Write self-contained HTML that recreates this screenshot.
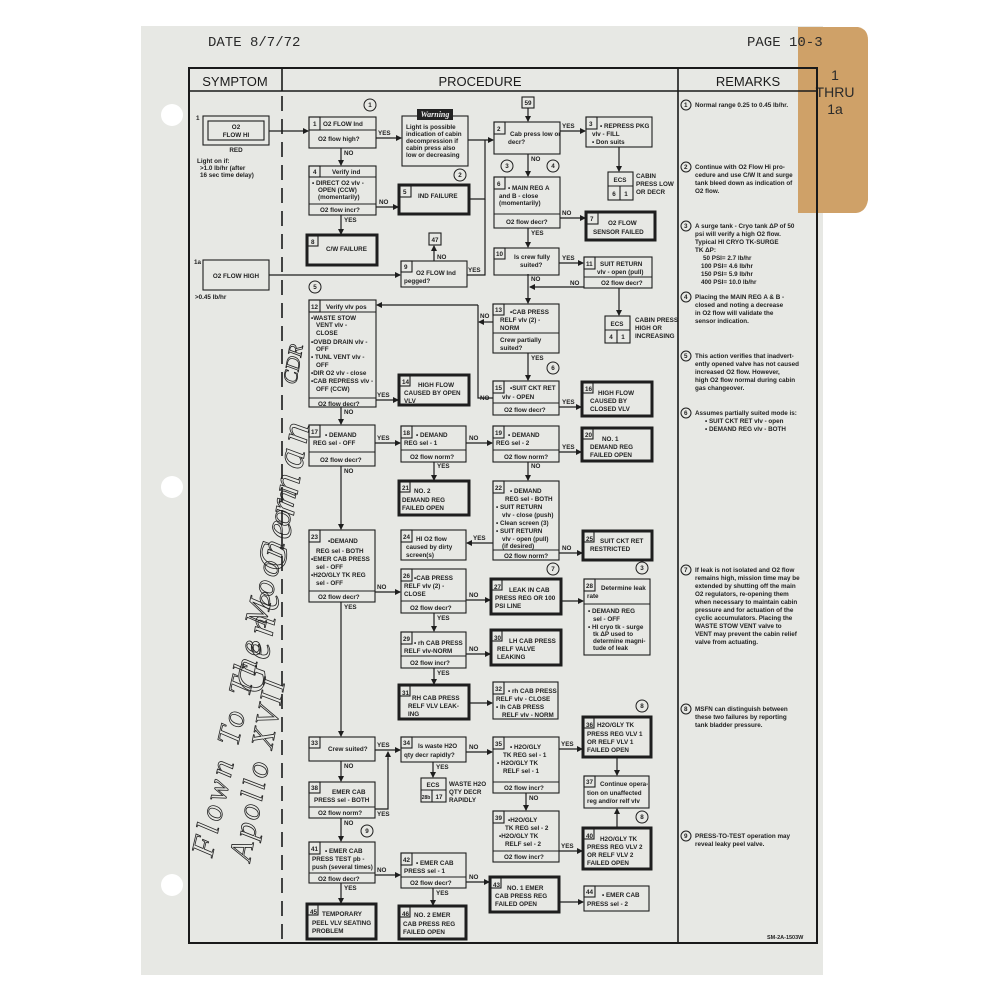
<!DOCTYPE html>
<html><head><meta charset="utf-8"><style>
html,body{margin:0;padding:0;background:#fff;}
svg{display:block}
.b{fill:none;stroke:#1e1e1e;stroke-width:1.1}
.k{fill:none;stroke:#1e1e1e;stroke-width:3}
.l{fill:none;stroke:#1e1e1e;stroke-width:1.2}
text{font-family:"Liberation Sans",sans-serif;font-size:6.3px;font-weight:bold;fill:#222}
.h{font-size:13px;font-weight:normal;fill:#1a1a1a}
.m{font-family:"Liberation Mono",monospace;font-size:14px;font-weight:normal;fill:#2a2a2a}
.r{font-size:6px}
.hw{font-family:"Liberation Serif",serif;font-style:italic;font-weight:normal;font-size:32px;fill:none;stroke:#222;stroke-width:0.8}
</style></head><body>
<svg width="1000" height="1000" viewBox="0 0 1000 1000" xmlns="http://www.w3.org/2000/svg">
<defs><marker id="a" markerWidth="6" markerHeight="6" refX="5" refY="3" orient="auto" markerUnits="userSpaceOnUse"><path d="M0,0 L6,3 L0,6 z" fill="#1e1e1e"/></marker></defs>
<!-- paper -->
<rect x="141" y="26" width="682" height="949" fill="#e7e8e4"/>
<!-- tab -->
<path d="M798,27 L858,27 Q868,29 868,40 L868,200 Q866,212 856,213 L798,213 Z" fill="#cfa168"/>
<text x="835" y="80" class="h" text-anchor="middle" style="fill:#2a2a2a;font-size:14px">1</text>
<text x="835" y="97" class="h" text-anchor="middle" style="fill:#2a2a2a;font-size:14px">THRU</text>
<text x="835" y="114" class="h" text-anchor="middle" style="fill:#2a2a2a;font-size:14px">1a</text>
<!-- holes -->
<circle cx="172" cy="115" r="11" fill="#fff"/>
<circle cx="172" cy="487" r="11" fill="#fff"/>
<circle cx="172" cy="885" r="11" fill="#fff"/>
<text x="208" y="46" class="m">DATE 8/7/72</text>
<text x="747" y="46" class="m">PAGE 10-3</text>
<!-- table -->
<rect x="189" y="68" width="628" height="875" fill="none" stroke="#1a1a1a" stroke-width="2"/>
<line x1="189" y1="91" x2="817" y2="91" stroke="#1a1a1a" stroke-width="1.6"/>
<line x1="282" y1="68" x2="282" y2="91" stroke="#1a1a1a" stroke-width="1.6"/>
<line x1="282" y1="96" x2="282" y2="943" stroke="#1a1a1a" stroke-width="1.6" stroke-dasharray="15,8"/>
<line x1="678" y1="68" x2="678" y2="943" stroke="#1a1a1a" stroke-width="1.6"/>
<text x="235" y="86" class="h" text-anchor="middle">SYMPTOM</text>
<text x="480" y="86" class="h" text-anchor="middle">PROCEDURE</text>
<text x="748" y="86" class="h" text-anchor="middle">REMARKS</text>

<!-- symptoms -->
<text x="196" y="120">1</text>
<rect x="203" y="116" width="66" height="29" class="b"/><rect x="208" y="121" width="56" height="19" class="b" stroke-width="1.6"/>
<text x="236" y="129" text-anchor="middle">O2</text><text x="236" y="137" text-anchor="middle">FLOW HI</text>
<text x="236" y="152" text-anchor="middle">RED</text>
<text x="197" y="163">Light on if:</text><text x="200" y="170">&gt;1.0 lb/hr (after</text><text x="200" y="177">16 sec time delay)</text>
<text x="194" y="264">1a</text>
<rect x="203" y="260" width="66" height="30" class="b" stroke-width="1.4"/>
<text x="236" y="278" text-anchor="middle">O2 FLOW HIGH</text>
<text x="195" y="299">&gt;0.45 lb/hr</text>

<!-- handwriting -->
<g transform="translate(212,858) rotate(-77)"><text class="hw" x="0" y="0" style="letter-spacing:4px">Flown To The Moon on</text></g>
<g transform="translate(250,862) rotate(-79)"><text class="hw" x="0" y="0" style="letter-spacing:3px">Apollo XVII</text></g>
<g transform="translate(262,695) rotate(-80)"><text class="hw" x="0" y="0" style="font-size:40px;letter-spacing:6px">Gene Cernan</text></g>
<g transform="translate(296,385) rotate(-80)"><text class="hw" x="0" y="0" style="font-size:20px">CDR</text></g>

<!-- circles -->
<g fill="none" stroke="#1e1e1e" stroke-width="1">
<circle cx="370" cy="105" r="6"/><circle cx="460" cy="175" r="6"/><circle cx="507" cy="166" r="6"/><circle cx="553" cy="166" r="6"/>
<circle cx="315" cy="287" r="6"/><circle cx="553" cy="368" r="6"/><circle cx="553" cy="569" r="6"/><circle cx="642" cy="568" r="6"/>
<circle cx="642" cy="706" r="6"/><circle cx="642" cy="817" r="6"/><circle cx="367" cy="831" r="6"/>
</g>
<g text-anchor="middle" style="font-size:6px">
<text x="370" y="107">1</text><text x="460" y="177">2</text><text x="507" y="168">3</text><text x="553" y="168">4</text>
<text x="315" y="289">5</text><text x="553" y="370">6</text><text x="553" y="571">7</text><text x="642" y="570">3</text>
<text x="642" y="708">8</text><text x="642" y="819">8</text><text x="367" y="833">9</text>
</g>

<!-- boxes -->
<g>
<rect x="309" y="117" width="67" height="31" class="b"/><rect x="309" y="117" width="11" height="13" class="b"/><line x1="309" y1="130" x2="376" y2="130" class="b"/>
<text x="313" y="126">1</text><text x="323" y="126">O2 FLOW Ind</text><text x="318" y="141">O2 flow high?</text>
<rect x="402" y="116" width="66" height="50" class="b"/><rect x="417" y="109" width="36" height="11" fill="#222"/>
<text x="435" y="117" text-anchor="middle" style="fill:#eee;font-style:italic;font-family:'Liberation Serif',serif;font-size:8px">Warning</text>
<text x="406" y="129">Light is possible</text><text x="406" y="136">indication of cabin</text><text x="406" y="143">decompression if</text><text x="406" y="150">cabin press also</text><text x="406" y="157">low or decreasing</text>
<rect x="522" y="97" width="12" height="11" class="b"/><text x="528" y="105" text-anchor="middle">59</text>
<rect x="494" y="122" width="66" height="32" class="b"/><rect x="494" y="122" width="11" height="12" class="b"/>
<text x="497" y="131">2</text><text x="510" y="136">Cab press low or</text><text x="508" y="144">decr?</text>
<rect x="586" y="117" width="66" height="30" class="b"/><rect x="586" y="117" width="11" height="12" class="b"/>
<text x="589" y="126">3</text><text x="600" y="128">• REPRESS PKG</text><text x="592" y="136">vlv - FILL</text><text x="592" y="144">• Don suits</text>
<rect x="608" y="172" width="25" height="28" class="b"/><line x1="608" y1="186" x2="633" y2="186" class="b"/><line x1="620" y1="186" x2="620" y2="200" class="b"/>
<text x="620" y="182" text-anchor="middle">ECS</text><text x="614" y="196" text-anchor="middle">6</text><text x="626" y="196" text-anchor="middle">1</text>
<text x="636" y="178">CABIN</text><text x="636" y="186">PRESS LOW</text><text x="636" y="194">OR DECR</text>
<rect x="309" y="166" width="67" height="49" class="b"/><rect x="309" y="166" width="11" height="11" class="b"/><line x1="309" y1="177" x2="376" y2="177" class="b"/><line x1="309" y1="204" x2="376" y2="204" class="b"/>
<text x="313" y="174">4</text><text x="332" y="174">Verify ind</text>
<text x="312" y="185">• DIRECT O2 vlv -</text><text x="318" y="192">OPEN (CCW)</text><text x="318" y="199">(momentarily)</text><text x="320" y="212">O2 flow incr?</text>
<rect x="399" y="185" width="70" height="29" class="k"/><rect x="400" y="186" width="11" height="11" class="b"/>
<text x="403" y="194">5</text><text x="418" y="198">IND FAILURE</text>
<rect x="494" y="177" width="66" height="51" class="b"/><rect x="494" y="177" width="11" height="12" class="b"/><line x1="494" y1="214" x2="560" y2="214" class="b"/>
<text x="497" y="186">6</text><text x="508" y="190">• MAIN REG A</text><text x="499" y="198">and B - close</text><text x="499" y="205">(momentarily)</text><text x="506" y="224">O2 flow decr?</text>
<rect x="586" y="212" width="69" height="28" class="k"/><rect x="587" y="213" width="11" height="11" class="b"/>
<text x="590" y="221">7</text><text x="608" y="225">O2 FLOW</text><text x="593" y="234">SENSOR FAILED</text>
<rect x="307" y="235" width="70" height="30" class="k"/><rect x="308" y="236" width="10" height="10" class="b"/>
<text x="311" y="244">8</text><text x="326" y="251">C/W FAILURE</text>
<rect x="429" y="233" width="12" height="12" class="b"/><text x="435" y="242" text-anchor="middle">47</text>
<rect x="401" y="261" width="66" height="26" class="b"/><rect x="401" y="261" width="11" height="11" class="b"/>
<text x="404" y="269">9</text><text x="416" y="275">O2 FLOW Ind</text><text x="404" y="283">pegged?</text>
<rect x="494" y="248" width="65" height="27" class="b"/><rect x="494" y="248" width="11" height="11" class="b"/>
<text x="496" y="256">10</text><text x="514" y="259">Is crew fully</text><text x="520" y="267">suited?</text>
<rect x="584" y="257" width="68" height="31" class="b"/><rect x="584" y="257" width="11" height="12" class="b"/><line x1="584" y1="277" x2="652" y2="277" class="b"/>
<text x="586" y="266">11</text><text x="600" y="266">SUIT RETURN</text><text x="597" y="274">vlv - open (pull)</text><text x="601" y="285">O2 flow decr?</text>
<rect x="309" y="300" width="67" height="107" class="b"/><rect x="309" y="300" width="11" height="12" class="b"/><line x1="309" y1="312" x2="376" y2="312" class="b"/><line x1="309" y1="398" x2="376" y2="398" class="b"/>
<text x="311" y="309">12</text><text x="326" y="309">Verify vlv pos</text>
<text x="311" y="320">•WASTE STOW</text><text x="316" y="327">VENT vlv -</text><text x="316" y="335">CLOSE</text>
<text x="311" y="344">•OVBD DRAIN vlv -</text><text x="316" y="351">OFF</text>
<text x="311" y="359">• TUNL VENT vlv -</text><text x="316" y="367">OFF</text>
<text x="311" y="375">•DIR O2 vlv - close</text>
<text x="311" y="383">•CAB REPRESS vlv -</text><text x="316" y="391">OFF (CCW)</text>
<text x="318" y="406">O2 flow decr?</text>
<rect x="493" y="304" width="66" height="49" class="b"/><rect x="493" y="304" width="11" height="11" class="b"/><line x1="493" y1="333" x2="559" y2="333" class="b"/>
<text x="495" y="312">13</text><text x="510" y="314">•CAB PRESS</text><text x="500" y="322">RELF vlv (2) -</text><text x="500" y="330">NORM</text>
<text x="500" y="342">Crew partially</text><text x="500" y="350">suited?</text>
<rect x="605" y="316" width="25" height="27" class="b"/><line x1="605" y1="330" x2="630" y2="330" class="b"/><line x1="617" y1="330" x2="617" y2="343" class="b"/>
<text x="617" y="326" text-anchor="middle">ECS</text><text x="611" y="339" text-anchor="middle">4</text><text x="623" y="339" text-anchor="middle">1</text>
<text x="635" y="322">CABIN PRESS</text><text x="635" y="330">HIGH OR</text><text x="635" y="338">INCREASING</text>
<rect x="399" y="375" width="70" height="30" class="k"/><rect x="400" y="376" width="10" height="10" class="b"/>
<text x="402" y="384">14</text><text x="418" y="387">HIGH FLOW</text><text x="404" y="395">CAUSED BY OPEN</text><text x="404" y="403">VLV</text>
<rect x="493" y="381" width="66" height="34" class="b"/><rect x="493" y="381" width="11" height="12" class="b"/><line x1="493" y1="403" x2="559" y2="403" class="b"/>
<text x="495" y="390">15</text><text x="510" y="390">•SUIT CKT RET</text><text x="502" y="399">vlv - OPEN</text><text x="504" y="412">O2 flow decr?</text>
<rect x="582" y="382" width="70" height="34" class="k"/><rect x="583" y="383" width="10" height="10" class="b"/>
<text x="585" y="391">16</text><text x="598" y="395">HIGH FLOW</text><text x="590" y="403">CAUSED BY</text><text x="590" y="411">CLOSED VLV</text>
<rect x="309" y="425" width="66" height="41" class="b"/><rect x="309" y="425" width="11" height="12" class="b"/><line x1="309" y1="452" x2="375" y2="452" class="b"/>
<text x="311" y="434">17</text><text x="325" y="437">• DEMAND</text><text x="313" y="445">REG sel - OFF</text><text x="320" y="462">O2 flow decr?</text>
<rect x="401" y="426" width="65" height="36" class="b"/><rect x="401" y="426" width="11" height="12" class="b"/><line x1="401" y1="450" x2="466" y2="450" class="b"/>
<text x="403" y="435">18</text><text x="416" y="437">• DEMAND</text><text x="404" y="445">REG sel - 1</text><text x="410" y="459">O2 flow norm?</text>
<rect x="493" y="426" width="66" height="36" class="b"/><rect x="493" y="426" width="11" height="12" class="b"/><line x1="493" y1="450" x2="559" y2="450" class="b"/>
<text x="495" y="435">19</text><text x="508" y="437">• DEMAND</text><text x="496" y="445">REG sel - 2</text><text x="504" y="459">O2 flow norm?</text>
<rect x="582" y="428" width="70" height="33" class="k"/><rect x="583" y="429" width="10" height="10" class="b"/>
<text x="585" y="437">20</text><text x="602" y="441">NO. 1</text><text x="590" y="449">DEMAND REG</text><text x="590" y="457">FAILED OPEN</text>
<rect x="399" y="481" width="70" height="34" class="k"/><rect x="400" y="482" width="10" height="10" class="b"/>
<text x="402" y="490">21</text><text x="414" y="493">NO. 2</text><text x="402" y="502">DEMAND REG</text><text x="402" y="510">FAILED OPEN</text>
<rect x="493" y="481" width="66" height="79" class="b"/><rect x="493" y="481" width="11" height="12" class="b"/><line x1="493" y1="550" x2="559" y2="550" class="b"/>
<text x="495" y="490">22</text><text x="510" y="493">• DEMAND</text><text x="505" y="501">REG sel - BOTH</text><text x="496" y="509">• SUIT RETURN</text>
<text x="502" y="517">vlv - close (push)</text><text x="496" y="525">• Clean screen (3)</text><text x="496" y="533">• SUIT RETURN</text><text x="502" y="541">vlv - open (pull)</text><text x="502" y="548">(if desired)</text><text x="504" y="558">O2 flow norm?</text>
<rect x="309" y="530" width="66" height="72" class="b"/><rect x="309" y="530" width="11" height="12" class="b"/><line x1="309" y1="591" x2="375" y2="591" class="b"/>
<text x="311" y="539">23</text><text x="328" y="543">•DEMAND</text><text x="316" y="553">REG sel - BOTH</text><text x="311" y="561">•EMER CAB PRESS</text>
<text x="316" y="569">sel - OFF</text><text x="311" y="577">•H2O/GLY TK REG</text><text x="316" y="585">sel - OFF</text><text x="318" y="599">O2 flow decr?</text>
<rect x="401" y="530" width="65" height="30" class="b"/><rect x="401" y="530" width="11" height="12" class="b"/>
<text x="403" y="539">24</text><text x="416" y="541">HI O2 flow</text><text x="406" y="549">caused by dirty</text><text x="406" y="557">screen(s)</text>
<rect x="583" y="531" width="69" height="29" class="k"/><rect x="584" y="532" width="10" height="10" class="b"/>
<text x="586" y="541">25</text><text x="600" y="543">SUIT CKT RET</text><text x="590" y="551">RESTRICTED</text>
<rect x="401" y="569" width="65" height="44" class="b"/><rect x="401" y="569" width="11" height="12" class="b"/><line x1="401" y1="601" x2="466" y2="601" class="b"/>
<text x="403" y="578">26</text><text x="414" y="580">•CAB PRESS</text><text x="404" y="588">RELF vlv (2) -</text><text x="404" y="596">CLOSE</text><text x="410" y="610">O2 flow decr?</text>
<rect x="491" y="579" width="70" height="35" class="k"/><rect x="492" y="580" width="10" height="10" class="b"/>
<text x="494" y="589">27</text><text x="509" y="592">LEAK IN CAB</text><text x="495" y="600">PRESS REG OR 100</text><text x="495" y="608">PSI LINE</text>
<rect x="584" y="579" width="66" height="76" class="b"/><rect x="584" y="579" width="11" height="12" class="b"/><line x1="584" y1="604" x2="650" y2="604" class="b"/>
<text x="586" y="588">28</text><text x="601" y="590">Determine leak</text><text x="587" y="598">rate</text>
<text x="588" y="613">• DEMAND REG</text><text x="593" y="621">sel - OFF</text><text x="588" y="629">• HI cryo tk - surge</text><text x="593" y="636">tk ΔP used to</text><text x="593" y="643">determine magni-</text><text x="593" y="650">tude of leak</text>
<rect x="401" y="632" width="65" height="36" class="b"/><rect x="401" y="632" width="11" height="12" class="b"/><line x1="401" y1="656" x2="466" y2="656" class="b"/>
<text x="403" y="641">29</text><text x="414" y="645">• rh CAB PRESS</text><text x="404" y="653">RELF vlv-NORM</text><text x="410" y="665">O2 flow incr?</text>
<rect x="491" y="630" width="70" height="35" class="k"/><rect x="492" y="631" width="10" height="10" class="b"/>
<text x="494" y="640">30</text><text x="509" y="643">LH CAB PRESS</text><text x="497" y="651">RELF VALVE</text><text x="497" y="659">LEAKING</text>
<rect x="399" y="685" width="70" height="34" class="k"/><rect x="400" y="686" width="10" height="10" class="b"/>
<text x="402" y="695">31</text><text x="412" y="700">RH CAB PRESS</text><text x="408" y="708">RELF VLV LEAK-</text><text x="408" y="716">ING</text>
<rect x="493" y="682" width="65" height="37" class="b"/><rect x="493" y="682" width="11" height="12" class="b"/>
<text x="495" y="691">32</text><text x="508" y="693">• rh CAB PRESS</text><text x="496" y="701">RELF vlv - CLOSE</text><text x="496" y="709">• lh CAB PRESS</text><text x="502" y="717">RELF vlv - NORM</text>
<rect x="583" y="717" width="68" height="40" class="k"/><rect x="584" y="718" width="10" height="10" class="b"/>
<text x="586" y="727">36</text><text x="597" y="727">H2O/GLY TK</text><text x="587" y="736">PRESS REG VLV 1</text><text x="587" y="744">OR RELF VLV 1</text><text x="587" y="752">FAILED OPEN</text>
<rect x="309" y="737" width="66" height="24" class="b"/><rect x="309" y="737" width="11" height="11" class="b"/>
<text x="311" y="745">33</text><text x="328" y="751">Crew suited?</text>
<rect x="401" y="737" width="65" height="25" class="b"/><rect x="401" y="737" width="11" height="11" class="b"/>
<text x="403" y="745">34</text><text x="418" y="748">Is waste H2O</text><text x="404" y="757">qty decr rapidly?</text>
<rect x="421" y="778" width="25" height="24" class="b"/><line x1="421" y1="790" x2="446" y2="790" class="b"/><line x1="432" y1="790" x2="432" y2="802" class="b"/>
<text x="433" y="787" text-anchor="middle">ECS</text><text x="426" y="799" text-anchor="middle" style="font-size:5px">28b</text><text x="439" y="799" text-anchor="middle">17</text>
<text x="449" y="786">WASTE H2O</text><text x="449" y="794">QTY DECR</text><text x="449" y="802">RAPIDLY</text>
<rect x="493" y="737" width="66" height="56" class="b"/><rect x="493" y="737" width="11" height="12" class="b"/><line x1="493" y1="782" x2="559" y2="782" class="b"/>
<text x="495" y="746">35</text><text x="510" y="749">• H2O/GLY</text><text x="503" y="757">TK REG sel - 1</text><text x="497" y="765">• H2O/GLY TK</text><text x="503" y="773">RELF sel - 1</text><text x="504" y="790">O2 flow incr?</text>
<rect x="584" y="776" width="65" height="32" class="b"/><rect x="584" y="776" width="11" height="11" class="b"/>
<text x="586" y="784">37</text><text x="600" y="786">Continue opera-</text><text x="587" y="795">tion on unaffected</text><text x="587" y="803">reg and/or relf vlv</text>
<rect x="309" y="782" width="66" height="36" class="b"/><rect x="309" y="782" width="11" height="11" class="b"/><line x1="309" y1="807" x2="375" y2="807" class="b"/>
<text x="311" y="790">38</text><text x="332" y="794">EMER CAB</text><text x="314" y="802">PRESS sel - BOTH</text><text x="318" y="815">O2 flow norm?</text>
<rect x="493" y="811" width="66" height="51" class="b"/><rect x="493" y="811" width="11" height="12" class="b"/><line x1="493" y1="851" x2="559" y2="851" class="b"/>
<text x="495" y="820">39</text><text x="508" y="822">•H2O/GLY</text><text x="505" y="830">TK REG sel - 2</text><text x="499" y="838">•H2O/GLY TK</text><text x="505" y="846">RELF sel - 2</text><text x="504" y="859">O2 flow incr?</text>
<rect x="583" y="828" width="68" height="41" class="k"/><rect x="584" y="829" width="10" height="10" class="b"/>
<text x="586" y="838">40</text><text x="600" y="841">H2O/GLY TK</text><text x="587" y="849">PRESS REG VLV 2</text><text x="587" y="857">OR RELF VLV 2</text><text x="587" y="865">FAILED OPEN</text>
<rect x="309" y="842" width="66" height="41" class="b"/><rect x="309" y="842" width="11" height="12" class="b"/><line x1="309" y1="873" x2="375" y2="873" class="b"/>
<text x="311" y="851">41</text><text x="325" y="853">• EMER CAB</text><text x="312" y="861">PRESS TEST pb -</text><text x="312" y="869">push (several times)</text><text x="318" y="881">O2 flow decr?</text>
<rect x="401" y="853" width="65" height="35" class="b"/><rect x="401" y="853" width="11" height="12" class="b"/><line x1="401" y1="877" x2="466" y2="877" class="b"/>
<text x="403" y="862">42</text><text x="416" y="865">• EMER CAB</text><text x="404" y="873">PRESS sel - 1</text><text x="410" y="885">O2 flow decr?</text>
<rect x="490" y="877" width="69" height="35" class="k"/><rect x="491" y="878" width="10" height="10" class="b"/>
<text x="493" y="887">43</text><text x="507" y="890">NO. 1 EMER</text><text x="495" y="898">CAB PRESS REG</text><text x="495" y="906">FAILED OPEN</text>
<rect x="584" y="886" width="65" height="25" class="b"/><rect x="584" y="886" width="11" height="11" class="b"/>
<text x="586" y="894">44</text><text x="602" y="897">• EMER CAB</text><text x="587" y="906">PRESS sel - 2</text>
<rect x="307" y="904" width="69" height="35" class="k"/><rect x="308" y="905" width="10" height="10" class="b"/>
<text x="310" y="914">45</text><text x="322" y="916">TEMPORARY</text><text x="312" y="925">PEEL VLV SEATING</text><text x="312" y="933">PROBLEM</text>
<rect x="399" y="906" width="67" height="33" class="k"/><rect x="400" y="907" width="10" height="10" class="b"/>
<text x="402" y="916">46</text><text x="414" y="917">NO. 2 EMER</text><text x="403" y="926">CAB PRESS REG</text><text x="403" y="934">FAILED OPEN</text>
</g>

<!-- connectors -->
<g class="l">
<line x1="269" y1="131" x2="308" y2="131" marker-end="url(#a)"/>
<line x1="376" y1="138" x2="401" y2="138" marker-end="url(#a)"/>
<line x1="468" y1="140" x2="493" y2="140" marker-end="url(#a)"/>
<polyline points="469,199 485,199 485,140"/><polyline points="467,275 485,275 485,199"/>
<line x1="528" y1="108" x2="528" y2="121" marker-end="url(#a)"/>
<line x1="560" y1="131" x2="585" y2="131" marker-end="url(#a)"/>
<line x1="619" y1="147" x2="619" y2="171" marker-end="url(#a)"/>
<line x1="528" y1="154" x2="528" y2="176" marker-end="url(#a)"/>
<line x1="560" y1="218" x2="585" y2="218" marker-end="url(#a)"/>
<line x1="528" y1="228" x2="528" y2="247" marker-end="url(#a)"/>
<line x1="559" y1="263" x2="583" y2="263" marker-end="url(#a)"/>
<line x1="584" y1="287" x2="530" y2="287" marker-end="url(#a)"/>
<line x1="619" y1="288" x2="619" y2="315" marker-end="url(#a)"/>
<line x1="528" y1="274" x2="528" y2="303" marker-end="url(#a)"/>
<line x1="341" y1="148" x2="341" y2="165" marker-end="url(#a)"/>
<line x1="376" y1="207" x2="398" y2="207" marker-end="url(#a)"/>
<line x1="341" y1="215" x2="341" y2="234" marker-end="url(#a)"/>
<line x1="434" y1="261" x2="434" y2="246" marker-end="url(#a)"/>
<line x1="269" y1="275" x2="400" y2="275" marker-end="url(#a)"/>
<line x1="493" y1="322" x2="479" y2="322" marker-end="url(#a)"/>
<polyline points="493,398 478,398 478,305"/>
<line x1="478" y1="305" x2="377" y2="305" marker-end="url(#a)"/>
<line x1="528" y1="353" x2="528" y2="380" marker-end="url(#a)"/>
<line x1="559" y1="407" x2="581" y2="407" marker-end="url(#a)"/>
<line x1="376" y1="400" x2="398" y2="400" marker-end="url(#a)"/>
<line x1="341" y1="407" x2="341" y2="424" marker-end="url(#a)"/>
<line x1="375" y1="443" x2="400" y2="443" marker-end="url(#a)"/>
<line x1="466" y1="443" x2="492" y2="443" marker-end="url(#a)"/>
<line x1="559" y1="452" x2="581" y2="452" marker-end="url(#a)"/>
<line x1="434" y1="462" x2="434" y2="480" marker-end="url(#a)"/>
<line x1="528" y1="462" x2="528" y2="480" marker-end="url(#a)"/>
<line x1="493" y1="543" x2="467" y2="543" marker-end="url(#a)"/>
<line x1="559" y1="553" x2="582" y2="553" marker-end="url(#a)"/>
<line x1="341" y1="466" x2="341" y2="529" marker-end="url(#a)"/>
<line x1="375" y1="592" x2="400" y2="592" marker-end="url(#a)"/>
<line x1="341" y1="602" x2="341" y2="736" marker-end="url(#a)"/>
<line x1="466" y1="600" x2="490" y2="600" marker-end="url(#a)"/>
<line x1="561" y1="601" x2="583" y2="601" marker-end="url(#a)"/>
<line x1="434" y1="613" x2="434" y2="631" marker-end="url(#a)"/>
<line x1="466" y1="654" x2="490" y2="654" marker-end="url(#a)"/>
<line x1="434" y1="668" x2="434" y2="684" marker-end="url(#a)"/>
<line x1="469" y1="703" x2="492" y2="703" marker-end="url(#a)"/>
<line x1="375" y1="750" x2="400" y2="750" marker-end="url(#a)"/>
<polyline points="375,809 388,809 388,758"/><line x1="388" y1="760" x2="388" y2="752" marker-end="url(#a)"/>
<line x1="341" y1="761" x2="341" y2="781" marker-end="url(#a)"/>
<line x1="433" y1="762" x2="433" y2="777" marker-end="url(#a)"/>
<line x1="466" y1="752" x2="492" y2="752" marker-end="url(#a)"/>
<line x1="559" y1="749" x2="582" y2="749" marker-end="url(#a)"/>
<line x1="617" y1="757" x2="617" y2="775" marker-end="url(#a)"/>
<line x1="617" y1="828" x2="617" y2="809" marker-end="url(#a)"/>
<line x1="526" y1="793" x2="526" y2="810" marker-end="url(#a)"/>
<line x1="559" y1="851" x2="582" y2="851" marker-end="url(#a)"/>
<line x1="341" y1="818" x2="341" y2="841" marker-end="url(#a)"/>
<line x1="375" y1="875" x2="400" y2="875" marker-end="url(#a)"/>
<line x1="341" y1="883" x2="341" y2="903" marker-end="url(#a)"/>
<line x1="466" y1="882" x2="489" y2="882" marker-end="url(#a)"/>
<line x1="433" y1="888" x2="433" y2="905" marker-end="url(#a)"/>
<line x1="559" y1="902" x2="583" y2="902" marker-end="url(#a)"/>
</g>
<g style="font-size:6px">
<text x="378" y="135">YES</text><text x="344" y="155">NO</text><text x="379" y="204">NO</text><text x="344" y="222">YES</text>
<text x="562" y="128">YES</text><text x="531" y="161">NO</text><text x="562" y="215">NO</text><text x="531" y="235">YES</text>
<text x="562" y="260">YES</text><text x="570" y="285">NO</text><text x="531" y="281">NO</text><text x="437" y="259">NO</text><text x="468" y="272">YES</text>
<text x="480" y="318">NO</text><text x="480" y="400">NO</text><text x="531" y="360">YES</text><text x="562" y="404">YES</text>
<text x="377" y="397">YES</text><text x="344" y="414">NO</text><text x="377" y="440">YES</text><text x="469" y="440">NO</text><text x="562" y="449">YES</text>
<text x="437" y="468">YES</text><text x="531" y="468">NO</text><text x="473" y="540">YES</text><text x="562" y="550">NO</text>
<text x="344" y="473">NO</text><text x="377" y="589">NO</text><text x="344" y="609">YES</text><text x="469" y="597">NO</text>
<text x="437" y="620">YES</text><text x="469" y="651">NO</text><text x="437" y="675">YES</text>
<text x="377" y="747">YES</text><text x="344" y="768">NO</text><text x="377" y="816">YES</text><text x="436" y="769">YES</text><text x="469" y="749">NO</text>
<text x="561" y="746">YES</text><text x="529" y="800">NO</text><text x="561" y="848">YES</text><text x="344" y="825">NO</text>
<text x="377" y="872">NO</text><text x="344" y="890">YES</text><text x="469" y="879">NO</text><text x="436" y="895">YES</text>
</g>

<!-- remarks -->
<g fill="none" stroke="#1e1e1e" stroke-width="1">
<circle cx="686" cy="105" r="5"/><circle cx="686" cy="167" r="5"/><circle cx="686" cy="226" r="5"/><circle cx="686" cy="297" r="5"/>
<circle cx="686" cy="356" r="5"/><circle cx="686" cy="413" r="5"/><circle cx="686" cy="570" r="5"/><circle cx="686" cy="709" r="5"/><circle cx="686" cy="836" r="5"/>
</g>
<g class="r">
<text x="684" y="107">1</text><text x="684" y="169">2</text><text x="684" y="228">3</text><text x="684" y="299">4</text><text x="684" y="358">5</text><text x="684" y="415">6</text><text x="684" y="572">7</text><text x="684" y="711">8</text><text x="684" y="838">9</text>
<text x="695" y="107">Normal range 0.25 to 0.45 lb/hr.</text>
<text x="695" y="169">Continue with O2 Flow Hi pro-</text><text x="695" y="177">cedure and use C/W lt and surge</text><text x="695" y="185">tank bleed down as indication of</text><text x="695" y="193">O2 flow.</text>
<text x="695" y="228">A surge tank - Cryo tank ΔP of 50</text><text x="695" y="236">psi will verify a high O2 flow.</text><text x="695" y="244">Typical HI CRYO TK-SURGE</text><text x="695" y="252">TK ΔP:</text>
<text x="703" y="260">50 PSI= 2.7 lb/hr</text><text x="701" y="268">100 PSI= 4.6 lb/hr</text><text x="701" y="276">150 PSI= 5.9 lb/hr</text><text x="701" y="284">400 PSI= 10.0 lb/hr</text>
<text x="695" y="299">Placing the MAIN REG A &amp; B -</text><text x="695" y="307">closed and noting a decrease</text><text x="695" y="315">in O2 flow will validate the</text><text x="695" y="323">sensor indication.</text>
<text x="695" y="358">This action verifies that inadvert-</text><text x="695" y="366">ently opened valve has not caused</text><text x="695" y="374">increased O2 flow. However,</text><text x="695" y="382">high O2 flow normal during cabin</text><text x="695" y="390">gas changeover.</text>
<text x="695" y="415">Assumes partially suited mode is:</text><text x="705" y="423">• SUIT CKT RET vlv - open</text><text x="705" y="431">• DEMAND REG vlv - BOTH</text>
<text x="695" y="572">If leak is not isolated and O2 flow</text><text x="695" y="580">remains high, mission time may be</text><text x="695" y="588">extended by shutting off the main</text><text x="695" y="596">O2 regulators, re-opening them</text><text x="695" y="604">when necessary to maintain cabin</text><text x="695" y="612">pressure and for actuation of the</text><text x="695" y="620">cyclic accumulators. Placing the</text><text x="695" y="628">WASTE STOW VENT valve to</text><text x="695" y="636">VENT may prevent the cabin relief</text><text x="695" y="644">valve from actuating.</text>
<text x="695" y="711">MSFN can distinguish between</text><text x="695" y="719">these two failures by reporting</text><text x="695" y="727">tank bladder pressure.</text>
<text x="695" y="838">PRESS-TO-TEST operation may</text><text x="695" y="846">reveal leaky peel valve.</text>
<text x="767" y="939" style="font-size:5.5px">SM-2A-1503W</text>
</g>
</svg>
</body></html>
